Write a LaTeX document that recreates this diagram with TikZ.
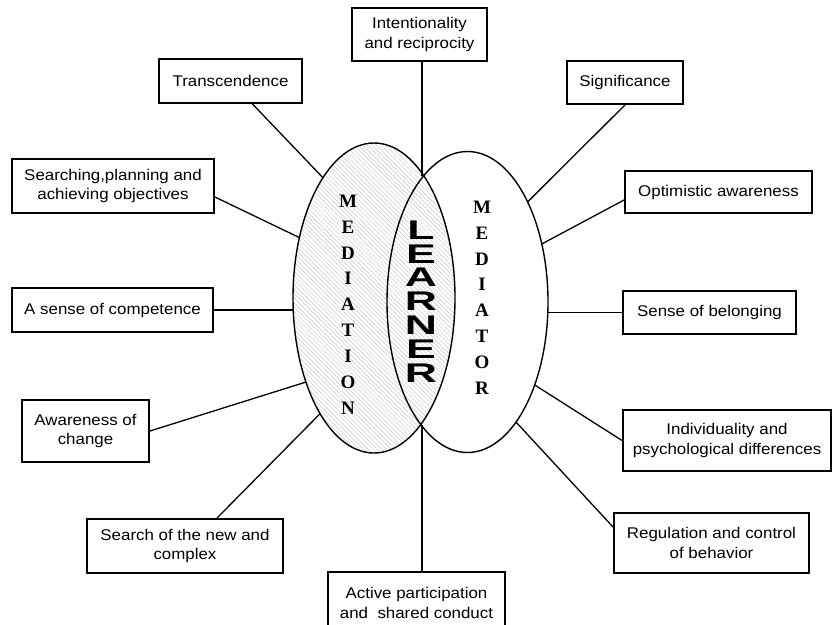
\documentclass[tikz,border=0pt]{standalone}
\usepackage{fontspec}
\setmainfont{Liberation Sans}
\newfontfamily\boxfont[FakeStretch=1.09]{Liberation Sans}
\newfontfamily\medfont{Liberation Serif}
\usetikzlibrary{shapes.geometric,patterns.meta}
\tikzset{
  box/.style={draw, line width=1.9pt, fill=white, align=center, inner sep=0pt,
    font=\boxfont\fontsize{15.5}{19.5}\selectfont},
  conn/.style={line width=1.3pt},
  oval/.style={ellipse, draw, line width=1.4pt, inner sep=0pt, outer sep=0pt},
  lettr/.style={font=\medfont\bfseries\fontsize{19}{19}\selectfont, inner sep=0pt},
  lrn/.style={font=\bfseries\fontsize{27}{27}\selectfont, inner sep=0pt}
}
\begin{document}
\begin{tikzpicture}[x=1pt,y=-1pt]
\useasboundingbox (0,0) rectangle (834,624);
\fill[white] (0,0) rectangle (834,624);
% ellipses
\node[oval, minimum width=162pt, minimum height=310pt,
  pattern={Lines[angle=-45,distance=3.2pt,line width=0.45pt]}, pattern color=gray!45] (L) at (374,298) {};
\node[oval, minimum width=161pt, minimum height=301pt] (R) at (467.5,302) {};
% boxes
\node[box, minimum width=135pt, minimum height=53pt] (I) at (419.5,34.5) {Intentionality\\and reciprocity};
\node[box, minimum width=143pt, minimum height=44pt] (T) at (230.5,81) {Transcendence};
\node[box, minimum width=202pt, minimum height=54pt] (S) at (113,186) {Searching,planning and\\achieving objectives};
\node[box, minimum width=116pt, minimum height=43pt] (Sig) at (625,82.5) {Significance};
\node[box, minimum width=187pt, minimum height=42pt] (O) at (718.5,192) {Optimistic awareness};
\node[box, minimum width=201pt, minimum height=44pt] (C) at (112.5,310) {A sense of competence};
\node[box, minimum width=127pt, minimum height=62pt] (Aw) at (85.5,431) {Awareness of\\change};
\node[box, minimum width=196pt, minimum height=54pt] (N) at (185,546) {Search of the new and\\complex};
\node[box, minimum width=177pt, minimum height=62pt] (Act) at (416.5,603) {Active participation\\and\ \ shared conduct};
\node[box, minimum width=173pt, minimum height=43pt] (Bel) at (709.5,312.5) {Sense of belonging};
\node[box, minimum width=208pt, minimum height=61pt] (Ind) at (727,440.5) {Individuality and\\psychological differences};
\node[box, minimum width=195pt, minimum height=60pt] (Reg) at (711.5,543) {Regulation and control\\of behavior};
% vertical connector
\coordinate (vt) at (422,176);
\coordinate (vb) at (422,425);
\draw[conn] (I.south -| vt) -- (vt);
\draw[conn] (vb) -- (Act.north -| vb);
% connectors
\draw[conn] (T) -- (L.113.8);
\draw[conn] ([yshift=-11pt]S.east) -- (L.141.3);
\draw[conn] (C.east) -- (C.east -| L.west);
\draw[conn] (Aw.east) -- (L.231.3);
\draw[conn] ([xshift=32pt]N.north) -- (L.245.8);
\draw[conn] (Sig.south) -- (R.59.8);
\draw[conn] ([yshift=-8pt]O.west) -- (R.38.4);
\draw[conn] (Bel.west) -- (Bel.west -| R.east);
\draw[conn] (Ind.west) -- (R.-51.5);
\draw[conn] ([yshift=16pt]Reg.west) -- (R.-68.8);
% letters
\foreach \ch [count=\i from 0] in {M,E,D,I,A,T,I,O,N}
  \node[lettr] (ml\i) at (348,{201+25.9*\i}) {\ch};
\foreach \ch [count=\i from 0] in {M,E,D,I,A,T,O,R}
  \node[lettr] (mr\i) at (482,{207+25.9*\i}) {\ch};
\foreach \ch [count=\i from 0] in {L,E,A,R,N,E,R}
  \node[lrn] (ln\i) at (421,{230+23.8*\i}) {\scalebox{1.65}[1]{\ch}};
\end{tikzpicture}
\end{document}
